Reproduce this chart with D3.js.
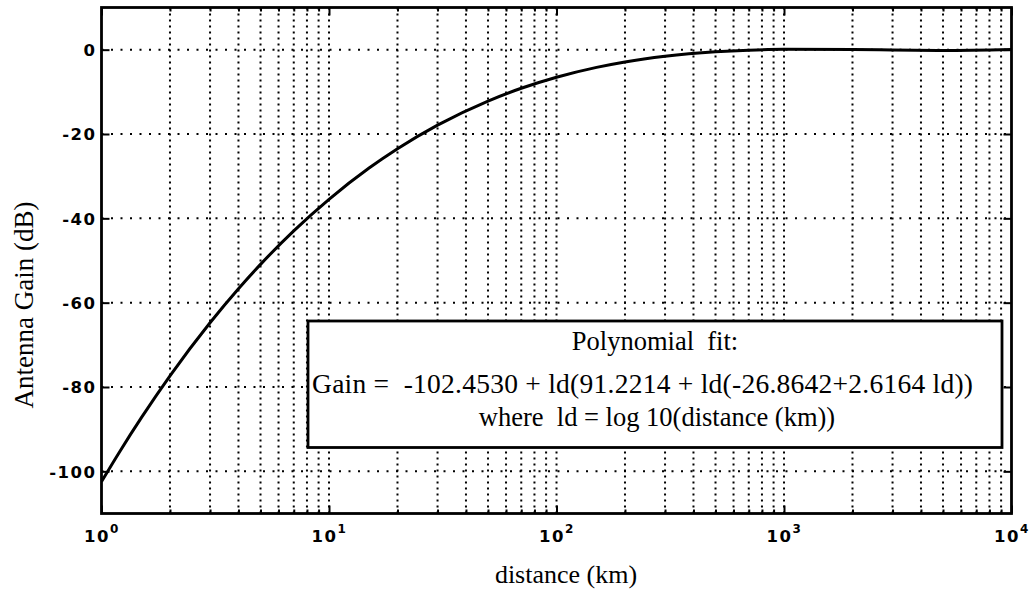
<!DOCTYPE html>
<html>
<head>
<meta charset="utf-8">
<script src="https://cdn.jsdelivr.net/npm/d3@7"></script>
<style>
  body { margin: 0; background: #fff; }
  svg { display: block; }
  .axis text { font-family: "DejaVu Sans", sans-serif; font-weight: bold; font-size: 16.5px; fill: #000; letter-spacing: 1.5px; }
  .axis line { stroke: #000; stroke-width: 2; }
  .serif { font-family: "Liberation Serif", "Times New Roman", serif; fill: #000; white-space: pre; }
</style>
</head>
<body>
<svg id="chart" width="1029" height="591"></svg>
<script>
// Antenna gain versus ground distance (cubic fit in log10 distance)
const distanceKm = [1, 1.2, 1.5, 2, 3, 4, 5, 7, 10, 15, 20, 30, 50, 70, 100, 150, 200, 300, 500, 700, 1000, 2000, 3000, 5000, 10000];
const gainDb     = [-102.45, -95.40, -87.22, -77.36, -64.77, -56.70, -50.92, -42.97, -35.48, -28.07, -23.48, -17.89, -12.18, -9.16, -6.54, -4.20, -2.91, -1.56, -0.50, -0.11, 0.08, 0.05, -0.07, -0.18, 0.06];

const yTickValues = [-100, -80, -60, -40, -20, 0];
const xDecades = [1, 10, 100, 1000, 10000];
const xTickExponents = ["0", "1", "2", "3", "4"];
const yTitle = "Antenna Gain (dB)";
const xTitle = "distance (km)";
const fitLines = [
  "Polynomial  fit:",
  "Gain =  -102.4530 + ld(91.2214 + ld(-26.8642+2.6164 ld))",
  "where  ld = log 10(distance (km))"
];

const svg = d3.select("#chart");
const plot = { left: 101.5, right: 1011.5, top: 7.5, bottom: 513.5 };

const x = d3.scaleLog().domain([1, 10000]).range([plot.left, plot.right]);
const y = d3.scaleLinear().domain([-110, 10]).range([plot.bottom, plot.top]);

// all minor positions 2..9 inside each decade, plus the inner decades
const minorTicks = [];
for (let k = 0; k < 4; k++) {
  for (let m = 2; m <= 9; m++) minorTicks.push(m * Math.pow(10, k));
}
const innerDecades = xDecades.slice(1, -1);

// dotted grid
const grid = svg.append("g");
grid.selectAll("line.v")
  .data(minorTicks.concat(innerDecades))
  .join("line")
  .attr("x1", d => x(d)).attr("x2", d => x(d))
  .attr("y1", plot.top).attr("y2", plot.bottom)
  .attr("stroke", "#000").attr("stroke-width", 2)
  .attr("stroke-dasharray", "2,4");
grid.selectAll("line.h")
  .data(yTickValues)
  .join("line")
  .attr("x1", plot.left).attr("x2", plot.right)
  .attr("y1", d => y(d)).attr("y2", d => y(d))
  .attr("stroke", "#000").attr("stroke-width", 2)
  .attr("stroke-dasharray", "2,7.5");

// curve
svg.append("clipPath").attr("id", "plotClip")
  .append("rect")
  .attr("x", plot.left).attr("y", plot.top)
  .attr("width", plot.right - plot.left).attr("height", plot.bottom - plot.top);

const points = distanceKm.map((d, i) => ({ d, g: gainDb[i] }));
svg.append("path")
  .datum(points)
  .attr("clip-path", "url(#plotClip)")
  .attr("fill", "none")
  .attr("stroke", "#000")
  .attr("stroke-width", 3)
  .attr("stroke-linejoin", "round")
  .attr("d", d3.line().x(p => x(p.d)).y(p => y(p.g)).curve(d3.curveMonotoneX));

// fit legend box
const box = { x0: 308, x1: 1002, y0: 321, y1: 447.5 };
svg.append("rect")
  .attr("x", box.x0).attr("y", box.y0)
  .attr("width", box.x1 - box.x0).attr("height", box.y1 - box.y0)
  .attr("fill", "#fff").attr("stroke", "#000").attr("stroke-width", 2.8);

const cx = (box.x0 + box.x1) / 2;
svg.append("text").attr("class", "serif")
  .attr("x", cx).attr("y", 350).attr("text-anchor", "middle")
  .attr("font-size", 26.5).text(fitLines[0]);
svg.append("text").attr("class", "serif")
  .attr("x", 312).attr("y", 392.5).attr("text-anchor", "start")
  .attr("font-size", 27.5)
  .attr("textLength", 661).attr("lengthAdjust", "spacing")
  .text(fitLines[1]);
svg.append("text").attr("class", "serif")
  .attr("x", cx + 2).attr("y", 426).attr("text-anchor", "middle")
  .attr("font-size", 26.5).text(fitLines[2]);

// axes (ticks point inward)
const yLeft = svg.append("g").attr("class", "axis")
  .attr("transform", `translate(${plot.left},0)`)
  .call(d3.axisLeft(y).tickValues(yTickValues).tickSize(-8).tickSizeOuter(0).tickPadding(5).tickFormat(d => String(d)));
yLeft.select(".domain").remove();
yLeft.selectAll("text").attr("dy", "0.36em");

const yRight = svg.append("g").attr("class", "axis")
  .attr("transform", `translate(${plot.right},0)`)
  .call(d3.axisRight(y).tickValues(yTickValues).tickSize(-8).tickSizeOuter(0).tickFormat(""));
yRight.select(".domain").remove();

const xMinorBottom = svg.append("g").attr("class", "axis")
  .attr("transform", `translate(0,${plot.bottom})`)
  .call(d3.axisBottom(x).tickValues(minorTicks).tickSize(-4).tickSizeOuter(0).tickFormat(""));
xMinorBottom.select(".domain").remove();
const xMinorTop = svg.append("g").attr("class", "axis")
  .attr("transform", `translate(0,${plot.top})`)
  .call(d3.axisTop(x).tickValues(minorTicks).tickSize(-4).tickSizeOuter(0).tickFormat(""));
xMinorTop.select(".domain").remove();

const xBottom = svg.append("g").attr("class", "axis")
  .attr("transform", `translate(0,${plot.bottom})`)
  .call(d3.axisBottom(x).tickValues(xDecades).tickSize(-8).tickSizeOuter(0).tickFormat(""));
xBottom.select(".domain").remove();
xBottom.selectAll(".tick text").remove();
xBottom.selectAll(".tick").each(function (d, i) {
  const t = d3.select(this).append("text")
    .attr("y", 28).attr("text-anchor", "middle").attr("fill", "#000");
  t.append("tspan").text("10");
  t.append("tspan").attr("dy", -9).attr("font-size", 12).text(xTickExponents[i]);
});
const xTop = svg.append("g").attr("class", "axis")
  .attr("transform", `translate(0,${plot.top})`)
  .call(d3.axisTop(x).tickValues(xDecades).tickSize(-8).tickSizeOuter(0).tickFormat(""));
xTop.select(".domain").remove();

// frame
svg.append("rect")
  .attr("x", plot.left).attr("y", plot.top)
  .attr("width", plot.right - plot.left).attr("height", plot.bottom - plot.top)
  .attr("fill", "none").attr("stroke", "#000").attr("stroke-width", 2.8);

// axis titles
svg.append("text").attr("class", "serif")
  .attr("transform", "translate(33,305) rotate(-90)")
  .attr("text-anchor", "middle").attr("font-size", 27)
  .text(yTitle);
svg.append("text").attr("class", "serif")
  .attr("x", 566).attr("y", 583).attr("text-anchor", "middle")
  .attr("font-size", 26).text(xTitle);
</script>
</body>
</html>
